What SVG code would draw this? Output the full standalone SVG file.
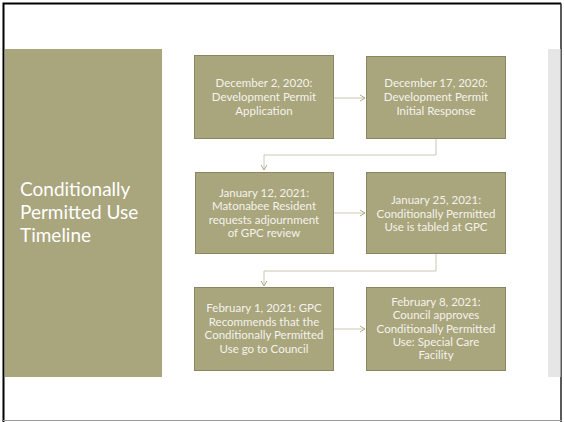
<svg xmlns="http://www.w3.org/2000/svg" width="564" height="422" viewBox="0 0 564 422">
<style>
.box{fill:#a9a57c;stroke:#8a8662;stroke-width:1}
.bt{font-family:Lato,"Open Sans",sans-serif;font-size:11.5px;fill:#f4f3ec;text-anchor:middle}
.title{font-family:Lato,"Open Sans",sans-serif;font-size:19px;fill:#ffffff}
.con{fill:none;stroke:#cbc8b2;stroke-width:1}
</style>
<defs>
<marker id="ah" markerWidth="8" markerHeight="8" refX="6" refY="4" orient="auto" markerUnits="userSpaceOnUse">
<path d="M1,1 L6,4 L1,7" fill="none" stroke="#a9a57c" stroke-width="0.9"/>
</marker>
</defs>
<rect width="564" height="422" fill="#ffffff"/>
<path d="M3.5,422 V3.5 H561" fill="none" stroke="#000" stroke-width="2"/>
<path d="M561,3.5 V422" fill="none" stroke="#222" stroke-width="1.5"/>
<path d="M3,420.5 H562" fill="none" stroke="#999" stroke-width="1"/>
<rect x="548" y="49" width="12.5" height="328" fill="#e6e6e6"/>
<g id="title-panel">
<rect x="5" y="49" width="157" height="328" fill="#a9a57c"/>
<text class="title" x="20" y="196">Conditionally</text>
<text class="title" x="20" y="219">Permitted Use</text>
<text class="title" x="20" y="242">Timeline</text>
</g>
<g id="connectors">
<path class="con" d="M334,98 H365" marker-end="url(#ah)"/>
<path class="con" d="M436,139 V155 H264 V170" marker-end="url(#ah)"/>
<path class="con" d="M334,213 H365" marker-end="url(#ah)"/>
<path class="con" d="M436,254 V271 H264 V286" marker-end="url(#ah)"/>
<path class="con" d="M334,329 H365" marker-end="url(#ah)"/>
</g>
<g id="n1">
<rect class="box" x="194.5" y="55.5" width="139" height="83"/>
<text class="bt" x="264" y="87">December 2, 2020:</text>
<text class="bt" x="264" y="101">Development Permit</text>
<text class="bt" x="264" y="115">Application</text>
</g>
<g id="n2">
<rect class="box" x="366.5" y="56.5" width="139" height="82"/>
<text class="bt" x="436" y="87">December 17, 2020:</text>
<text class="bt" x="436" y="101">Development Permit</text>
<text class="bt" x="436" y="115">Initial Response</text>
</g>
<g id="n3">
<rect class="box" x="195.5" y="172.5" width="138" height="81"/>
<text class="bt" x="264" y="197">January 12, 2021:</text>
<text class="bt" x="264" y="210">Matonabee Resident</text>
<text class="bt" x="264" y="223.5">requests adjournment</text>
<text class="bt" x="264" y="237">of GPC review</text>
</g>
<g id="n4">
<rect class="box" x="366.5" y="172.5" width="139" height="81"/>
<text class="bt" x="436" y="204">January 25, 2021:</text>
<text class="bt" x="436" y="217.5">Conditionally Permitted</text>
<text class="bt" x="436" y="231">Use is tabled at GPC</text>
</g>
<g id="n5">
<rect class="box" x="194.5" y="287.5" width="139" height="83"/>
<text class="bt" x="264" y="312">February 1, 2021: GPC</text>
<text class="bt" x="264" y="325.5">Recommends that the</text>
<text class="bt" x="264" y="339">Conditionally Permitted</text>
<text class="bt" x="264" y="352.5">Use go to Council</text>
</g>
<g id="n6">
<rect class="box" x="366.5" y="287.5" width="139" height="83"/>
<text class="bt" x="436" y="306">February 8, 2021:</text>
<text class="bt" x="436" y="319.3">Council approves</text>
<text class="bt" x="436" y="332.6">Conditionally Permitted</text>
<text class="bt" x="436" y="345.9">Use: Special Care</text>
<text class="bt" x="436" y="359.2">Facility</text>
</g>
</svg>
